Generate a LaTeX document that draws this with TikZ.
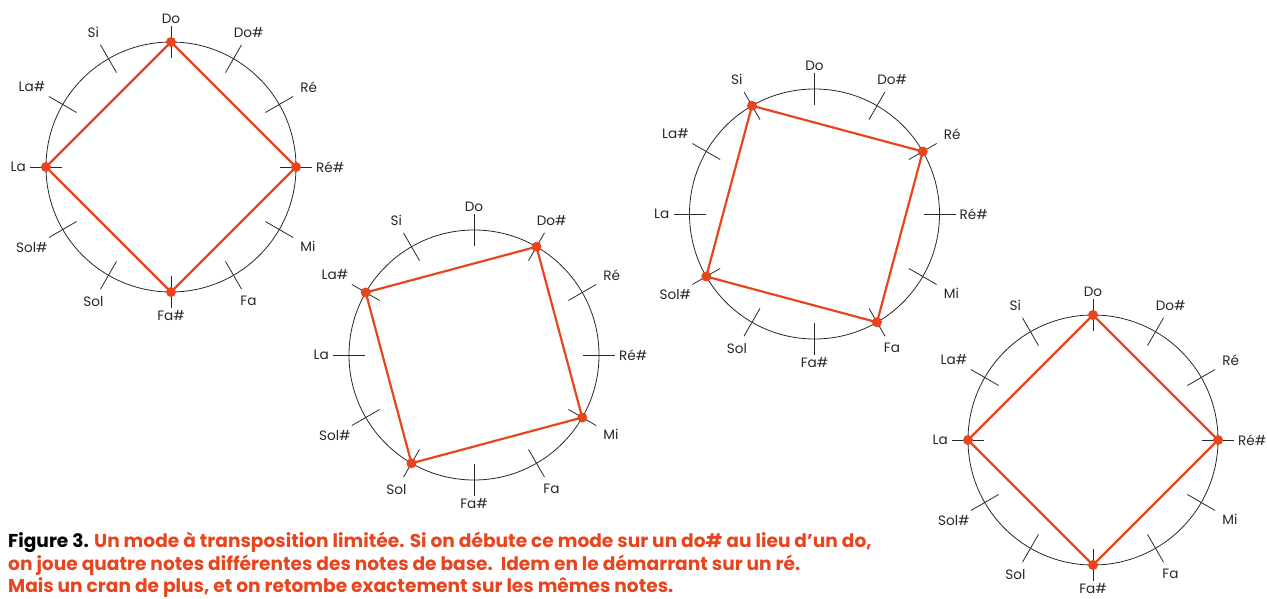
\documentclass[tikz,border=0pt]{standalone}
\usepackage{fontspec}
\setmainfont{Poppins}
\usetikzlibrary{calc}
\definecolor{rouge}{RGB}{232,68,30}
\definecolor{encre}{RGB}{40,40,40}

\begin{document}
\begin{tikzpicture}[
    x=1pt, y=1pt,
    every node/.style={font=\fontsize{13.6}{16}\selectfont, text=encre},
    roue/.style={draw=encre, circle, minimum size=250pt, inner sep=0pt, line width=0.8pt},
    cran/.style={draw=encre, line width=0.8pt},
    note/.style={inner sep=1pt},
    point/.style={circle, fill=rouge, minimum size=10pt, inner sep=0pt},
    carre/.style={draw=rouge, line width=2.2pt, line join=round},
    legende/.style={anchor=north west, align=left, inner sep=0pt, text=rouge,
        font=\fontsize{18.6}{22.6}\selectfont\bfseries}
]
\useasboundingbox (0,0) rectangle (1267,598);

% four wheels of twelve notes, four notes marked on each
\foreach \c/\cx/\cy/\a/\b/\e/\d in {A/171/431/0/3/6/9, B/474/243/1/4/7/10,
    C/814.5/384/2/5/8/11, D/1093/158/0/3/6/9} {
  \node[roue] (\c) at (\cx,\cy) {};
  \foreach \n [count=\k from 0] in {Do,Do\#,Ré,Ré\#,Mi,Fa,Fa\#,Sol,Sol\#,La,La\#,Si} {
    \pgfmathsetmacro\ang{90-30*\k}
    \pgfmathtruncatemacro\opp{mod(270-30*\k+720,360)}
    \pgfmathsetmacro\dist{mod(\k,6)==0 ? 142 : (mod(\k,3)==0 ? 144 : 148)}
    \draw[cran] ($(\c)+(\ang:109)$) -- ($(\c)+(\ang:141)$);
    \node[note, anchor=\opp] (\c-\k) at ($(\c)+(\ang:\dist)$) {\n};
  }
  \foreach \h in {\a,\b,\e,\d}
    \coordinate (\c-p\h) at ($(\c)+({90-30*\h}:125)$);
  \draw[carre] (\c-p\a) -- (\c-p\b) -- (\c-p\e) -- (\c-p\d) -- cycle;
  \foreach \h in {\a,\b,\e,\d}
    \node[point] at (\c-p\h) {};
}

\node[legende] (legende) at (8,66) {{\color{black}Figure 3.} Un mode à transposition limitée. Si on débute ce mode sur un do\# au lieu d’un do,\\
on joue quatre notes différentes des notes de base.\ \ Idem en le démarrant sur un ré.\\
Mais un cran de plus, et on retombe exactement sur les mêmes notes.};
\end{tikzpicture}
\end{document}
